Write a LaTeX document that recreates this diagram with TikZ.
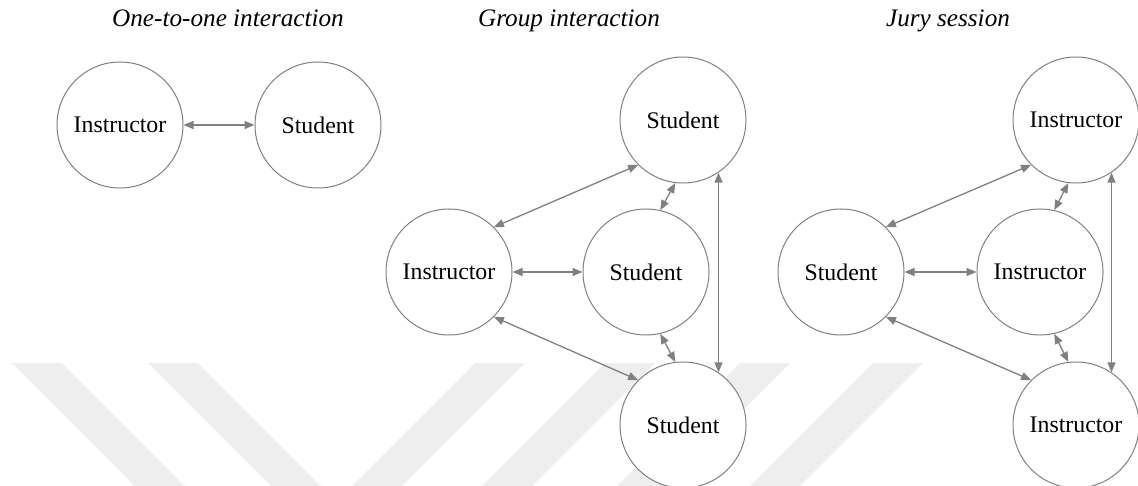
\documentclass[tikz,border=0pt]{standalone}
\usepackage{fontspec}
\setmainfont{Liberation Serif}
\usetikzlibrary{arrows.meta}
\definecolor{edgegray}{HTML}{808080}
\definecolor{bandgray}{HTML}{EEEEEE}
\begin{document}
\begin{tikzpicture}[x=1pt,y=-1pt,
  role/.style={circle,draw=edgegray,line width=1pt,fill=white,
    minimum size=126pt,inner sep=0pt,font=\fontsize{23.8pt}{28pt}\selectfont},
  heading/.style={anchor=base,font=\fontsize{25.2pt}{30pt}\selectfont\itshape},
  link/.style={draw=edgegray,line width=1.3pt,
    {Triangle[length=10pt,width=8pt]}-{Triangle[length=10pt,width=8pt]}},
  band/.style={fill=bandgray,draw=none}]
\useasboundingbox (0,0) rectangle (1138,486);

% background stripes
\foreach \t in {12,148}
  \fill[band] (\t,363) -- (\t+50,363) -- (\t+50+140,503) -- (\t+140,503) -- cycle;
\foreach \t in {475,605,740,873}
  \fill[band] (\t,363) -- (\t+50,363) -- (\t+50-140,503) -- (\t-140,503) -- cycle;

% headings
\node[heading] (h1) at (228,27) {One-to-one interaction};
\node[heading] (h2) at (569,27) {Group interaction};
\node[heading] (h3) at (948,27) {Jury session};

% one-to-one
\node[role] (oi) at (120,125) {Instructor};
\node[role] (os) at (318,125) {Student};
\draw[link] (oi.east) -- (os.west);

% group interaction
\node[role] (gi) at (449,272) {Instructor};
\node[role] (gm) at (646,272) {Student};
\node[role] (gt) at (683,120) {Student};
\node[role] (gb) at (683,425) {Student};
\draw[link] (gi.45) -- (gt.225);
\draw[link] (gi.-45) -- (gb.135);
\draw[link] (gi.east) -- (gm.west);
\draw[link] (gm.77) -- (gt.-97);
\draw[link] (gm.-77) -- (gb.97);
\draw[link] (gt.-56) -- (gb.56);

% jury session
\node[role] (js) at (841,272) {Student};
\node[role] (jm) at (1040,272) {Instructor};
\node[role] (jt) at (1076,120) {Instructor};
\node[role] (jb) at (1076,425) {Instructor};
\draw[link] (js.45) -- (jt.225);
\draw[link] (js.-45) -- (jb.135);
\draw[link] (js.east) -- (jm.west);
\draw[link] (jm.77) -- (jt.-97);
\draw[link] (jm.-77) -- (jb.97);
\draw[link] (jt.-56) -- (jb.56);
\end{tikzpicture}
\end{document}
